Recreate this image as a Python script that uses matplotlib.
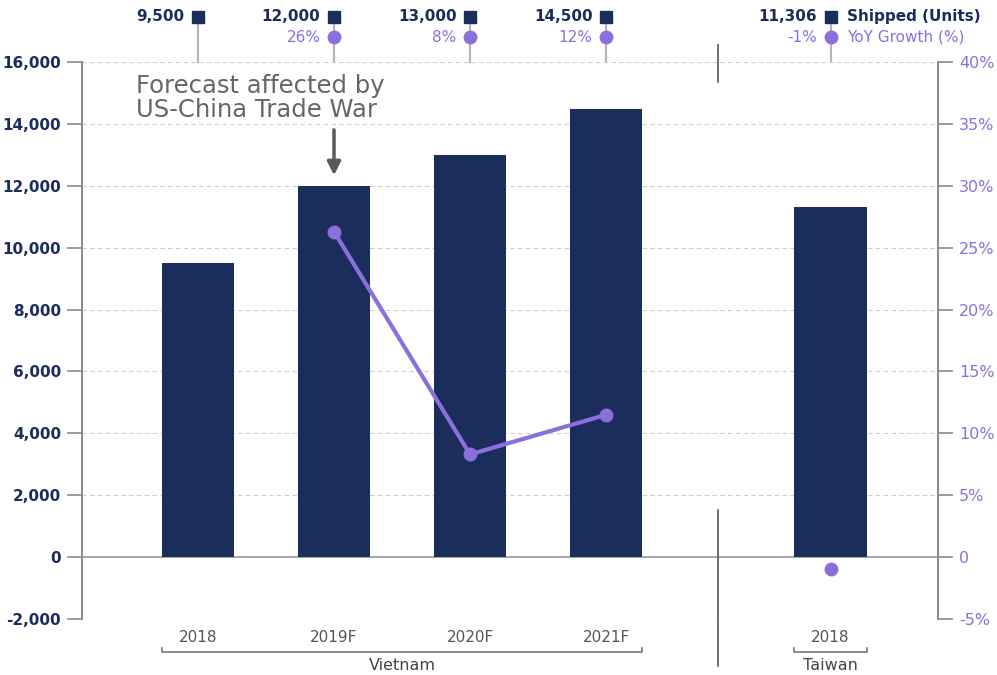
import numpy as np
import matplotlib.pyplot as plt
from matplotlib import transforms

# shipments (units) and year-on-year growth (%)
categories = ["2018", "2019F", "2020F", "2021F", "2018"]
positions = [0, 1, 2, 3, 4.65]
shipped = [9500, 12000, 13000, 14500, 11306]
growth = [None, 26.3, 8.3, 11.5, -1.0]
shipped_labels = ["9,500", "12,000", "13,000", "14,500", "11,306"]
growth_labels = [None, "26%", "8%", "12%", "-1%"]

navy = "#1b2d5c"
purple = "#8b70dc"
grey = "#8a8a8a"

fig = plt.figure(figsize=(9.97, 6.75), dpi=100)
ax = fig.add_axes([0.0822, 0.083, 0.8586, 0.825])
ax2 = ax.twinx()

ax.bar(positions, shipped, width=0.53, color=navy, zorder=3)
ax.set_xlim(-0.853, 5.44)
ax.set_ylim(-2000, 16000)
ax.set_yticks(np.arange(-2000, 16001, 2000))
ax.set_yticklabels([f"{v:,}" for v in range(-2000, 16001, 2000)])
ax.yaxis.grid(True, linestyle=(0, (4, 3)), color="#cfcfcf", linewidth=0.8, zorder=0)
ax.axhline(0, color="#9a9a9a", linewidth=1.2, zorder=2)
ax.tick_params(axis="y", length=11, width=1.2, color=grey, labelcolor=navy,
               labelsize=11, pad=4)
for lbl in ax.get_yticklabels():
    lbl.set_fontweight("bold")
ax.set_xticks([])

# YoY growth on the secondary axis
ax2.set_ylim(-5, 40)
ax2.set_yticks(np.arange(-5, 41, 5))
ax2.set_yticklabels(["-5%", "0"] + [f"{v}%" for v in range(5, 41, 5)])
ax2.tick_params(axis="y", length=11, width=1.2, color=grey, labelcolor=purple,
                labelsize=11.5, pad=4)
ax2.plot(positions[1:4], growth[1:4], color=purple, linewidth=3, marker="o",
         markersize=9, zorder=5)
ax2.plot(positions[4], growth[4], color=purple, marker="o", markersize=9, zorder=5)

for a in (ax, ax2):
    a.spines["top"].set_visible(False)
    a.spines["bottom"].set_visible(False)
    a.spines["left"].set_color(grey)
    a.spines["right"].set_color(grey)
    a.spines["left"].set_linewidth(1.2)
    a.spines["right"].set_linewidth(1.2)

# header markers above the plot
tr = transforms.blended_transform_factory(ax.transData, ax.transAxes)
for i, x in enumerate(positions):
    ax.plot([x, x], [1.0, 1.075], color="#b5b5b5", linewidth=1.5,
            transform=tr, clip_on=False, zorder=1)
    ax.plot(x, 1.081, marker="s", color=navy, markersize=8, transform=tr, clip_on=False)
    ax.text(x - 0.1, 1.081, shipped_labels[i], transform=tr, ha="right", va="center",
            color=navy, fontsize=11, fontweight="bold")
    if growth_labels[i]:
        ax.plot(x, 1.045, marker="o", color=purple, markersize=9, transform=tr,
                clip_on=False)
        ax.text(x - 0.1, 1.045, growth_labels[i], transform=tr, ha="right",
                va="center", color=purple, fontsize=11)
ax.text(positions[4] + 0.12, 1.081, "Shipped (Units)", transform=tr, ha="left",
        va="center", color=navy, fontsize=11, fontweight="bold")
ax.text(positions[4] + 0.12, 1.045, "YoY Growth (%)", transform=tr, ha="left",
        va="center", color=purple, fontsize=11)

# separator between countries
sep = 3.82
ax.plot([sep, sep], [1.03, 0.965], color="#555555", linewidth=1.2,
        transform=tr, clip_on=False)
ax.plot([sep, sep], [0.195, -0.085], color="#555555", linewidth=1.2,
        transform=tr, clip_on=False)

# category labels and group brackets
for x, c in zip(positions, categories):
    ax.text(x, -0.033, c, transform=tr, ha="center", va="center",
            color="#555555", fontsize=11)


def bracket(x0, x1, name):
    ax.plot([x0, x0, x1, x1], [-0.052, -0.06, -0.06, -0.052], color="#777777",
            linewidth=1.2, transform=tr, clip_on=False)
    ax.text((x0 + x1) / 2, -0.083, name, transform=tr, ha="center", va="center",
            color="#444444", fontsize=11.5)


bracket(-0.265, 3.265, "Vietnam")
bracket(4.385, 4.915, "Taiwan")

# annotation for the trade-war forecast
ax.annotate("", xy=(1, 12250), xytext=(1, 13900),
            arrowprops=dict(arrowstyle="-|>", color="#5a5a5a", lw=2.5,
                            mutation_scale=20))
ax.text(-0.455, 15600, "Forecast affected by\nUS-China Trade War", ha="left",
        va="top", color="#666666", fontsize=17.5, linespacing=0.98)

plt.savefig("out.png", dpi=100)
